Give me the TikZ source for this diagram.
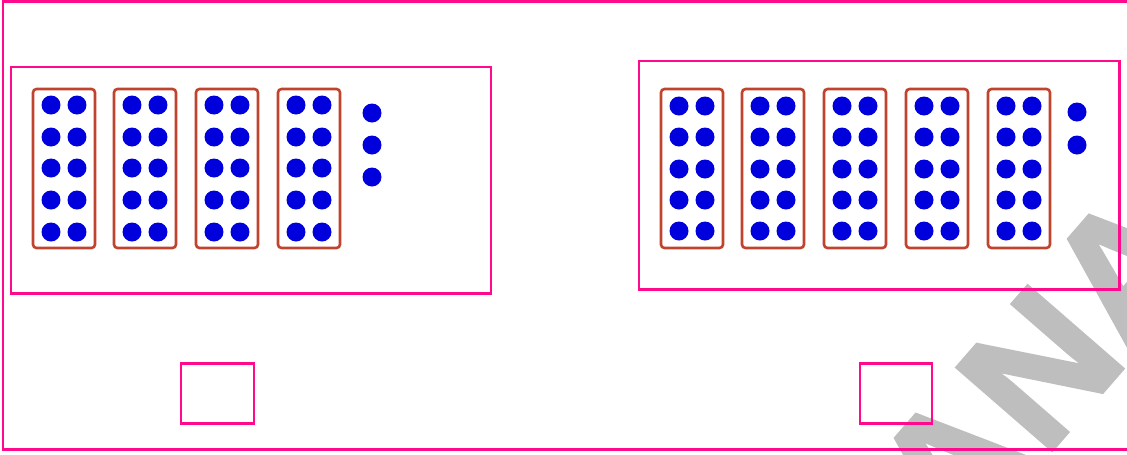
\documentclass[tikz,border=0pt]{standalone}
\usepackage{fontspec}
\setsansfont{Liberation Sans}
\newfontfamily\markfont[FakeBold=2]{Liberation Sans}
\definecolor{boxpink}{HTML}{FF0A8C}
\definecolor{framered}{HTML}{C0432E}
\definecolor{dotblue}{HTML}{0000DD}
\definecolor{markgrey}{HTML}{BEBEBE}

\begin{document}
\begin{tikzpicture}[
    x=0.02cm, y=-0.02cm,
    pinkbox/.style={draw=boxpink, line width=1.7pt},
    tenframe/.style={draw=framered, line width=1.5pt, rounded corners=2pt},
    counter/.style={fill=dotblue},
]
\useasboundingbox (0,0) rectangle (1127,454);

% === watermark (under everything) ===
\begin{scope}
\clip (0,0) rectangle (1127,454);
\node[rotate=49, color=markgrey, font=\markfont\bfseries\fontsize{104}{104}\selectfont]
    (mark) at (1040,368) {ANA};
\end{scope}

% === outer frame (open on the right) ===
\draw[pinkbox] (1127,1.5) -- (3,1.5) -- (3,449) -- (1127,449);

% === left group: 4 tens and 3 ones ===
\draw[pinkbox] (11,67) rectangle (491,293);
\foreach \fx in {33,114,196,278} {
    \draw[tenframe] (\fx,89) rectangle ({\fx+62},248);
    \foreach \dy in {105,137,168,200,232} {
        \fill[counter] ({\fx+18},\dy) circle (0.19cm);
        \fill[counter] ({\fx+44},\dy) circle (0.19cm);
    }
}
\foreach \dy in {113,145,177}
    \fill[counter] (372,\dy) circle (0.19cm);
\draw[pinkbox] (181,363) rectangle (254,423);

% === right group: 5 tens and 2 ones ===
\draw[pinkbox] (639,61) rectangle (1119,289);
\foreach \fx in {661,742,824,906,988} {
    \draw[tenframe] (\fx,89) rectangle ({\fx+62},248);
    \foreach \dy in {106,137,169,200,231} {
        \fill[counter] ({\fx+18},\dy) circle (0.19cm);
        \fill[counter] ({\fx+44},\dy) circle (0.19cm);
    }
}
\foreach \dy in {112,145}
    \fill[counter] (1077,\dy) circle (0.19cm);
\draw[pinkbox] (860,363) rectangle (932,423);

\end{tikzpicture}
\end{document}
